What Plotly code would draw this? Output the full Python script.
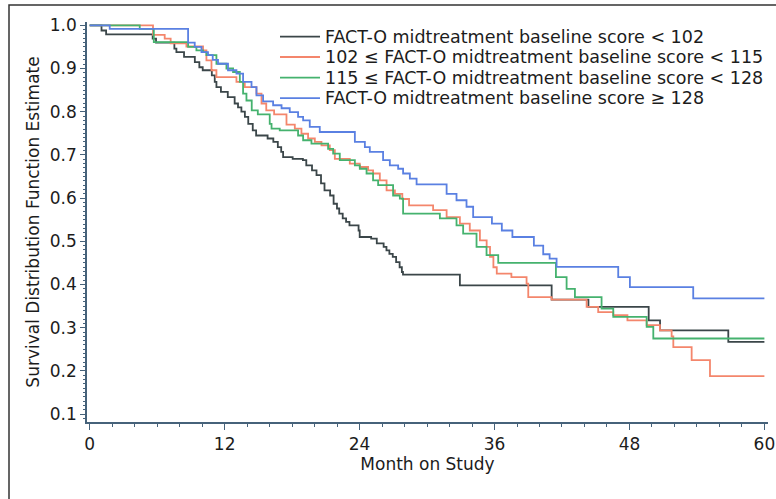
import plotly.graph_objects as go

# ---- data (month on study, survival estimate after each step) ----
series_names = [
    "FACT-O midtreatment baseline score < 102",
    "102 \u2264 FACT-O midtreatment baseline score < 115",
    "115 \u2264 FACT-O midtreatment baseline score < 128",
    "FACT-O midtreatment baseline score \u2265 128",
]

t_lt102 = [0, 1.05, 1.46, 5.6, 5.9, 7.53, 7.71, 8.39, 9.35, 9.75, 10.05, 10.86, 11.12, 11.27, 11.67,
           12.28, 12.89, 13.19, 13.49, 13.8, 14.1, 14.5, 14.8, 15.82, 16.33, 16.73, 17.03, 17.2,
           18.05, 18.96, 19.26, 19.77, 20.17, 20.57, 20.88, 21.38, 21.69, 21.99, 22.19, 22.5, 22.8,
           23.1, 23.91, 24.01, 25.03, 25.53, 26.14, 26.39, 26.65, 26.95, 27.25, 27.56, 27.76, 27.86,
           32.92, 41.08, 44.35, 49.71, 50.72, 56.79, 60.0]
s_lt102 = [1.0, 0.988, 0.979, 0.969, 0.96, 0.946, 0.938, 0.927, 0.915, 0.903, 0.896, 0.884, 0.869, 0.857,
           0.846, 0.834, 0.819, 0.81, 0.80, 0.788, 0.772, 0.757, 0.745, 0.738, 0.73, 0.718, 0.707, 0.695,
           0.691, 0.688, 0.676, 0.664, 0.653, 0.634, 0.618, 0.606, 0.587, 0.576, 0.564, 0.553, 0.545,
           0.537, 0.525, 0.51, 0.506, 0.495, 0.487, 0.479, 0.471, 0.464, 0.452, 0.44, 0.429, 0.423,
           0.398, 0.365, 0.348, 0.317, 0.294, 0.267, 0.267]

t_102_115 = [0, 5.63, 6.67, 7.2, 8.6, 10.08, 10.38, 10.83, 11.27, 13.05, 13.79, 14.83, 15.28, 15.7,
             16.4, 17.5, 18.24, 18.83, 19.42, 20.02, 20.61, 21.35, 21.8, 23.13, 24.02, 24.76, 25.2,
             25.8, 26.4, 27.14, 27.8, 28.4, 30.54, 31.74, 32.92, 33.8, 34.7, 35.3, 35.6, 35.9, 36.2,
             37.5, 38.85, 39.0, 41.08, 44.19, 45.22, 46.56, 47.82, 49.53, 50.71, 51.75, 51.9, 53.53,
             55.16, 60.0]
s_102_115 = [1.0, 0.978, 0.969, 0.958, 0.951, 0.942, 0.919, 0.896, 0.88, 0.869, 0.857, 0.842, 0.819,
             0.803, 0.794, 0.77, 0.761, 0.749, 0.738, 0.73, 0.722, 0.711, 0.691, 0.68, 0.672, 0.664,
             0.657, 0.641, 0.618, 0.61, 0.598, 0.583, 0.572, 0.556, 0.541, 0.525, 0.502, 0.487, 0.464,
             0.44, 0.425, 0.417, 0.402, 0.371, 0.365, 0.348, 0.336, 0.329, 0.317, 0.306, 0.294, 0.28,
             0.255, 0.225, 0.188, 0.188]

t_115_128 = [0, 4.45, 5.7, 8.75, 9.49, 10.08, 10.38, 11.27, 12.16, 12.75, 13.35, 13.64, 13.94, 14.41,
             14.95, 16.01, 16.17, 16.9, 18.53, 18.98, 19.72, 21.2, 21.65, 22.24, 23.58, 24.02, 24.62,
             25.2, 25.65, 26.98, 27.58, 27.87, 31.14, 32.62, 33.21, 34.4, 35.29, 36.33, 41.46, 42.41,
             43.15, 45.52, 46.56, 49.53, 50.12, 60.0]
s_115_128 = [1.0, 0.992, 0.961, 0.95, 0.942, 0.938, 0.931, 0.911, 0.9, 0.892, 0.869, 0.842, 0.826,
             0.803, 0.794, 0.772, 0.761, 0.757, 0.745, 0.734, 0.726, 0.714, 0.703, 0.688, 0.676, 0.668,
             0.657, 0.641, 0.63, 0.606, 0.599, 0.564, 0.553, 0.537, 0.518, 0.487, 0.468, 0.45, 0.417,
             0.39, 0.371, 0.344, 0.325, 0.302, 0.275, 0.275]

t_ge128 = [0, 1.78, 8.75, 9.34, 9.94, 10.52, 10.94, 11.41, 12.3, 13.05, 13.64, 14.39, 14.83, 15.42,
           16.31, 17.06, 17.79, 18.53, 18.98, 19.57, 20.46, 23.58, 24.47, 24.91, 26.09, 26.69, 27.43,
           27.87, 28.47, 29.07, 31.74, 32.62, 33.51, 34.1, 35.77, 36.65, 37.59, 39.5, 40.33, 40.9,
           41.52, 47.0, 48.04, 53.67, 60.0]
s_ge128 = [1.0, 0.992, 0.96, 0.95, 0.938, 0.931, 0.92, 0.911, 0.896, 0.888, 0.869, 0.857, 0.838,
           0.824, 0.815, 0.808, 0.799, 0.788, 0.78, 0.765, 0.753, 0.73, 0.718, 0.707, 0.688, 0.676,
           0.668, 0.657, 0.645, 0.632, 0.61, 0.595, 0.58, 0.556, 0.541, 0.525, 0.51, 0.49, 0.47, 0.46,
           0.441, 0.417, 0.394, 0.368, 0.368]

x_ticks = [0, 12, 24, 36, 48, 60]
y_ticks = [0.1, 0.2, 0.3, 0.4, 0.5, 0.6, 0.7, 0.8, 0.9, 1.0]
y_ticklabels = ["0.1", "0.2", "0.3", "0.4", "0.5", "0.6", "0.7", "0.8", "0.9", "1.0"]

colors = ["#3b4649", "#f4866c", "#45b26e", "#5a80e2"]
all_t = [t_lt102, t_102_115, t_115_128, t_ge128]
all_s = [s_lt102, s_102_115, s_115_128, s_ge128]

FONT = "DejaVu Sans"
TXT = "#1c1c1c"
W, H = 776, 499
ML, MR, MT, MB = 87, 8, 22, 77
PW, PH = W - ML - MR, H - MT - MB


def px_x(px):
    return (px - ML) / PW


def px_y(py):
    return (H - MB - py) / PH


fig = go.Figure()
for name, t, s, c in zip(series_names, all_t, all_s, colors):
    fig.add_trace(go.Scatter(x=t, y=s, mode="lines", name=name, showlegend=False,
                             line=dict(color=c, width=1.8, shape="hv")))

# legend drawn as key lines + text (mimicking the compact SAS legend)
legend_rows = [36.7, 57.0, 77.6, 98.2]
shapes = [dict(type="rect", xref="paper", yref="paper", x0=px_x(9), y0=px_y(520),
               x1=px_x(790), y1=px_y(5), line=dict(color="#333", width=1.5),
               fillcolor="rgba(0,0,0,0)", layer="below")]
annotations = []
for name, c, ry in zip(series_names, colors, legend_rows):
    shapes.append(dict(type="line", xref="paper", yref="paper", x0=px_x(280), x1=px_x(320),
                       y0=px_y(ry), y1=px_y(ry), line=dict(color=c, width=1.8)))
    annotations.append(dict(xref="paper", yref="paper", x=px_x(323), y=px_y(ry), text=name,
                            showarrow=False, xanchor="left", yanchor="middle",
                            font=dict(family=FONT, size=17.5, color=TXT)))

axis_col = "#46627a"
fig.update_layout(
    width=W, height=H,
    margin=dict(l=ML, r=MR, t=MT, b=MB),
    paper_bgcolor="white", plot_bgcolor="white",
    font=dict(family=FONT, size=17, color=TXT),
    showlegend=False,
    xaxis=dict(range=[-0.24, 60.32], tickvals=x_ticks, ticktext=[str(v) for v in x_ticks],
               automargin=False,
               showline=True, linecolor=axis_col, linewidth=1.5, ticks="outside", ticklen=6,
               tickcolor=axis_col, showgrid=False, zeroline=False,
               minor=dict(dtick=2, ticks="outside", ticklen=3, tickcolor=axis_col),
               title=dict(text="Month on Study", standoff=4,
                          font=dict(family=FONT, size=17, color=TXT)),
               tickfont=dict(family=FONT, size=17, color=TXT)),
    yaxis=dict(range=[0.0817, 1.0077], tickvals=y_ticks, ticktext=y_ticklabels,
               automargin=False,
               showline=True, linecolor=axis_col, linewidth=1.5, ticks="outside", ticklen=5,
               tickcolor=axis_col, showgrid=False, zeroline=False,
               minor=dict(dtick=0.01, tick0=0.1, ticks="outside", ticklen=2, tickcolor=axis_col),
               title=dict(text="Survival Distribution Function Estimate", standoff=6,
                          font=dict(family=FONT, size=17, color=TXT)),
               tickfont=dict(family=FONT, size=17, color=TXT)),
    shapes=shapes,
    annotations=annotations,
)

fig.write_html("out.html", config={"displayModeBar": False},
               post_script="document.body.style.margin='0';document.body.style.overflow='hidden';")
